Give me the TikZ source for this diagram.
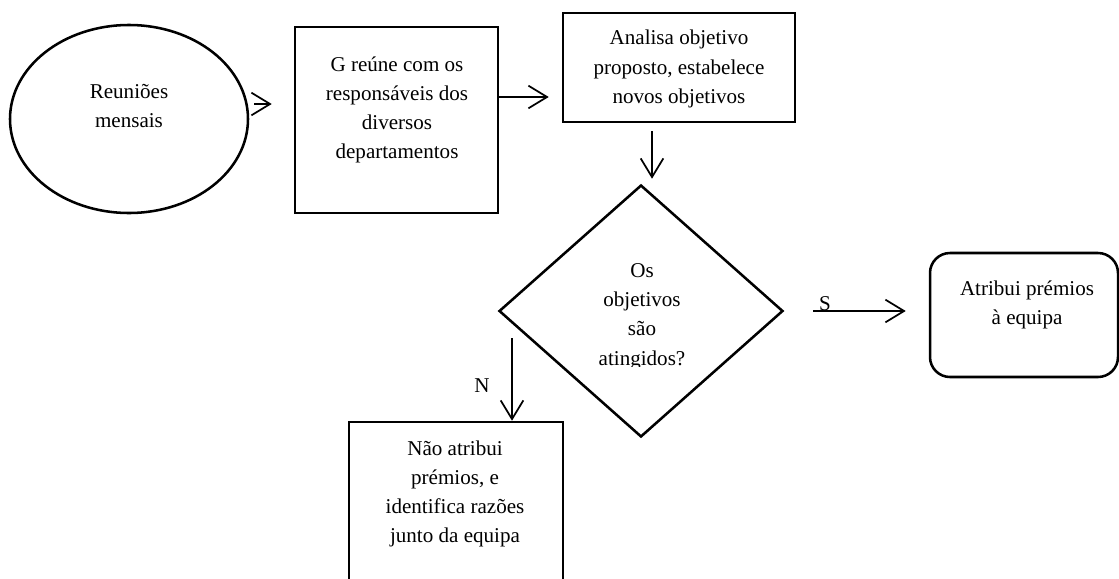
\documentclass[tikz,border=0pt]{standalone}
\usepackage{fontspec}
\setmainfont{Liberation Serif}
\usetikzlibrary{shapes.geometric,arrows.meta}
\begin{document}
\begin{tikzpicture}[x=0.75pt,y=-0.75pt,
  shapeline/.style={draw=black,line width=1.9pt,inner sep=0pt},
  boxnode/.style={shapeline,rectangle},
  txt/.style={font=\fontsize{15.8}{21.9}\selectfont,align=center,inner sep=0pt},
  arr/.style={draw=black,line width=1.3pt,-{Straight Barb[length=14pt,width=17pt,line width=1.3pt]}}]
\useasboundingbox (0,0) rectangle (1119,578);
\begin{scope}
\clip (0,0) rectangle (1119,578);
% shapes
\node[shapeline,ellipse,minimum width=178.5pt,minimum height=141pt] (ell) at (129,119) {};
\node[boxnode,minimum width=152.25pt,minimum height=139.5pt] (b1) at (396.5,120) {};
\node[boxnode,minimum width=174pt,minimum height=81.75pt] (b2) at (679,67.5) {};
\node[shapeline,diamond,minimum width=213pt,minimum height=189pt] (dia) at (641,311) {};
\node[boxnode,rounded corners=15pt,minimum width=141pt,minimum height=93pt] (rr) at (1024,315) {};
\node[boxnode,minimum width=160.5pt,minimum height=148.5pt] (b3) at (456,521) {};
% texts
\node[txt] (tell) at (129,106) {Reuniões\\mensais};
\node[txt] (tb1) at (397,110) {G reúne com os\\responsáveis dos\\diversos\\departamentos};
\node[txt] (tb2) at (679,69) {Analisa objetivo\\proposto, estabelece\\novos objetivos};
% the question text is cut off just under its last line
\begin{scope}
\clip (500,250) rectangle (780,366);
\node[txt] (tdia) at (642,316.5) {Os\\objetivos\\são\\atingidos?};
\end{scope}
\node[txt] (trr) at (1027,305) {Atribui prémios\\à equipa};
\node[txt] (tb3) at (455,494) {Não atribui\\prémios, e\\identifica razões\\junto da equipa};
\node[txt] (ls) at (825,304) {S};
\node[txt] (ln) at (482,386) {N};
% connectors
\coordinate (a1) at (254,104);
\draw[arr,shorten >=16.5pt] (a1) -- (a1 -| b1.west);
\coordinate (a2) at (498,97);
\draw[arr,shorten >=9.75pt] (a2) -- (a2 -| b2.west);
\draw[arr,shorten <=6pt,shorten >=3.75pt] ([xshift=-20.25pt]b2.south) -- ([xshift=-20.25pt]b2.south |- dia.north);
\draw[arr,shorten <=21.75pt,shorten >=17.25pt] (dia.east) -- (dia.east -| rr.west);
\coordinate (a4) at (512,338);
\draw[arr] (a4) -- (a4 |- b3.north);
\end{scope}
\end{tikzpicture}
\end{document}
